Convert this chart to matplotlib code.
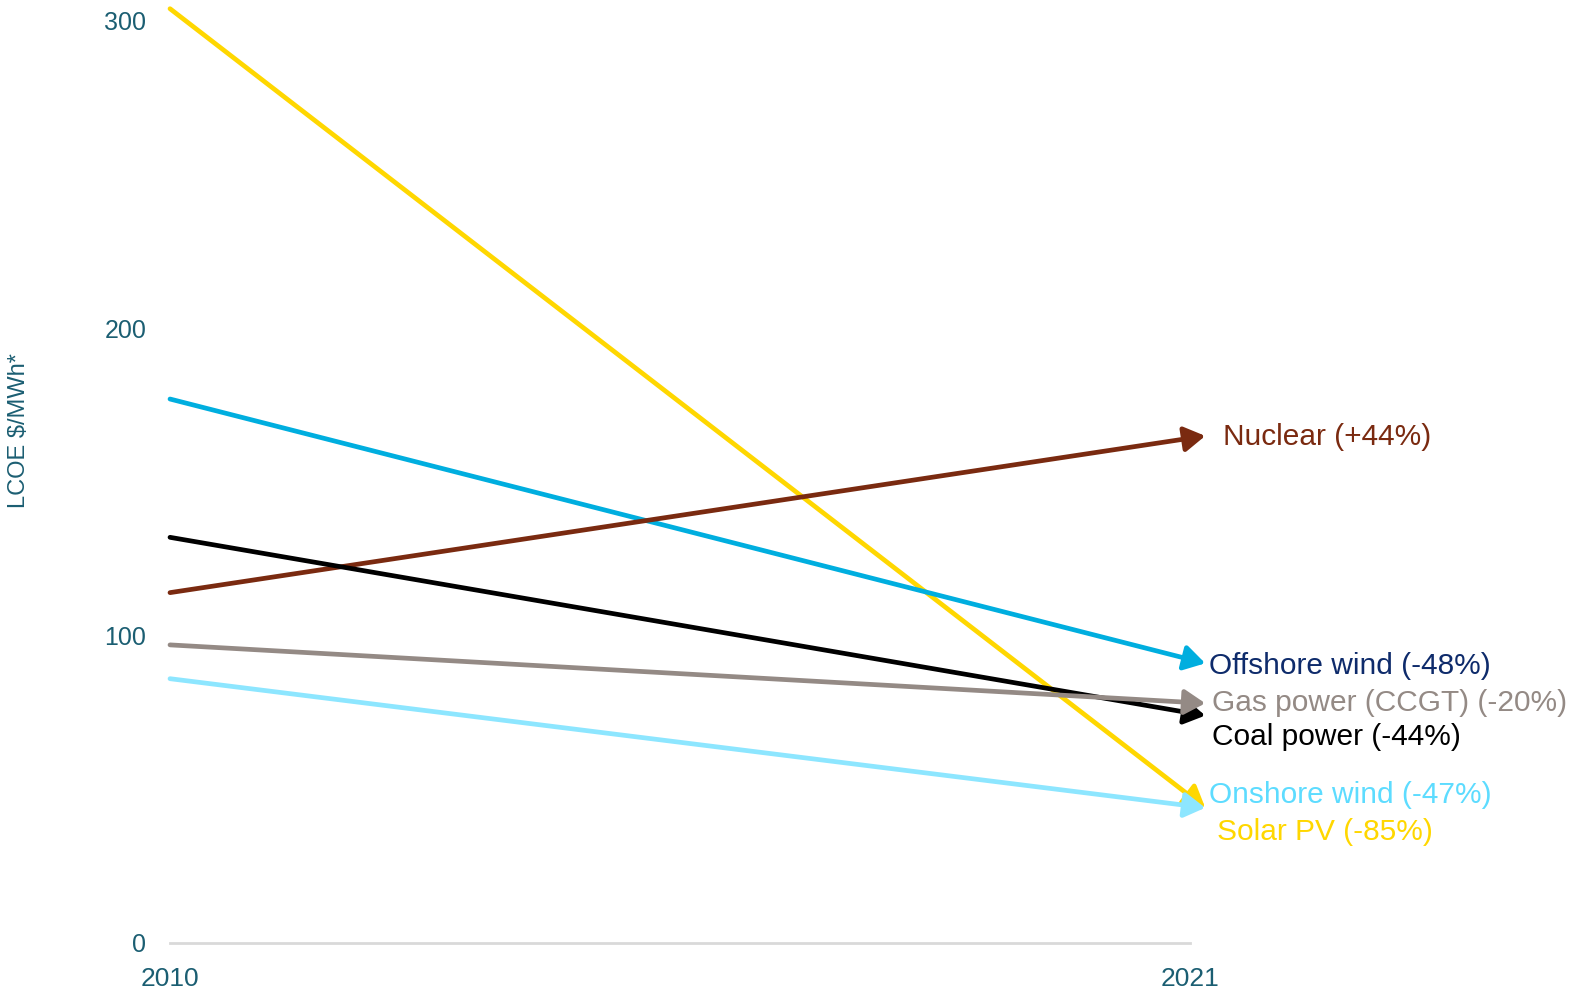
import matplotlib.pyplot as plt
from matplotlib.transforms import offset_copy

plt.rcParams['font.family'] = ['Liberation Sans', 'DejaVu Sans']

years = [2010, 2021]
series = ["Solar PV", "Offshore wind", "Nuclear", "Coal power", "Gas power (CCGT)", "Onshore wind"]
lcoe_2010 = [304, 177, 114, 132, 97, 86]
lcoe_2021 = [44, 91, 165, 74, 78, 44]
change = ["-85%", "-48%", "+44%", "-44%", "-20%", "-47%"]
y_ticks = [0, 100, 200, 300]

line_colors = ['#FFD700', '#00AEDF', '#7A2A10', '#000000', '#948A85', '#8DE6FF']
text_colors = ['#FFD700', '#0E2B6B', '#7A2A10', '#000000', '#948A85', '#5DDCFF']
# label anchor (left edge x in years, y in $/MWh)
label_pos = [(2021.29, 36), (2021.21, 90.0), (2021.36, 164.5), (2021.24, 67), (2021.24, 78.1), (2021.21, 48.1)]

teal = '#1B5E72'

fig = plt.figure(figsize=(15.73, 9.94), dpi=100)
ax = fig.add_axes([170/1573, 1-943/994, 1020/1573, 922/994])
ax.set_xlim(2010, 2021)
ax.set_ylim(0, 300)

for s in ax.spines.values():
    s.set_visible(False)
ax.plot(years, [0, 0], color='#D9D9D9', lw=2, zorder=1, clip_on=False)

tip = offset_copy(ax.transData, fig=fig, x=11, y=0, units='points')
for i, name in enumerate(series):
    ax.annotate('', xy=(years[1], lcoe_2021[i]), xycoords=tip,
                xytext=(years[0], lcoe_2010[i]), textcoords='data',
                arrowprops=dict(arrowstyle='-|>,head_length=0.45,head_width=0.27',
                                color=line_colors[i], lw=3.4, mutation_scale=28,
                                shrinkA=0, shrinkB=0),
                annotation_clip=False, zorder=3)
    lx, ly = label_pos[i]
    ax.text(lx, ly, f"{name} ({change[i]})", color=text_colors[i], fontsize=21.5,
            ha='left', va='center', clip_on=False)

ax.set_yticks(y_ticks)
ax.set_xticks(years)
ax.tick_params(axis='y', length=0, pad=17, labelsize=18, labelcolor=teal)
ax.tick_params(axis='x', length=0, pad=17, labelsize=19, labelcolor=teal)

fig.text(19/1573, 1-431/994, "LCOE $/MWh*", rotation=90, color=teal, fontsize=17,
         ha='center', va='center')

fig.savefig('out.png', dpi=100)
